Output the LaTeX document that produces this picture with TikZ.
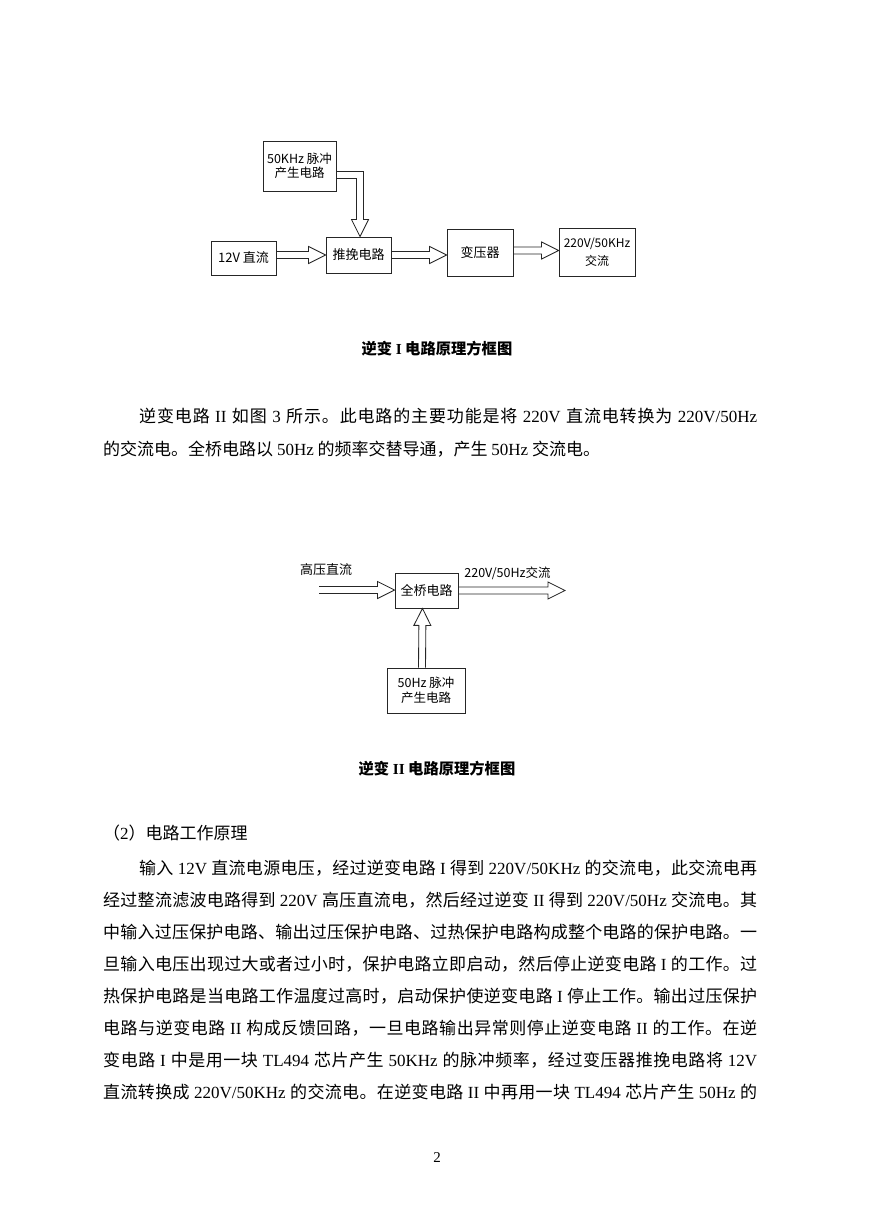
\documentclass[tikz,border=0pt]{standalone}
\usepackage{fontspec}
\setmainfont{Noto Sans CJK SC}
\newfontfamily\tm{Liberation Serif}
\usetikzlibrary{calc}
% stretchable glue between CJK characters (for justified lines)
\XeTeXinterchartokenstate=1
\newXeTeXintercharclass\cjkcls
\newcount\cjkc
\cjkc="4E00 \loop\XeTeXcharclass\cjkc=\cjkcls\advance\cjkc 1 \ifnum\cjkc<"A000 \repeat
\cjkc="3000 \loop\XeTeXcharclass\cjkc=\cjkcls\advance\cjkc 1 \ifnum\cjkc<"3040 \repeat
\cjkc="FF00 \loop\XeTeXcharclass\cjkc=\cjkcls\advance\cjkc 1 \ifnum\cjkc<"FFF0 \repeat
\XeTeXinterchartoks\cjkcls\cjkcls={\hskip 0pt plus 1pt\relax}
\newcommand\lt[1]{{\tm #1}}
\newcommand\dfont{\fontsize{13pt}{14pt}\selectfont}
\newcommand\sfontb{\fontsize{12.5pt}{14pt}\selectfont}
\newcommand\bfont{\fontsize{17pt}{32pt}\selectfont}
\newcommand\capfont{\fontsize{15.3pt}{18pt}\selectfont\bfseries}
\def\aw{3.5}\def\ah{8.5}\def\al{17}
\tikzset{
  box/.style={draw=black!85, line width=0.9pt, inner sep=0pt, align=center, font=\dfont},
  lbl/.style={inner sep=0pt, font=\dfont},
  conn/.style={draw=black!85, line width=0.85pt, line join=miter},
  barrow/.style={to path={
    let \p1=(\tikztostart), \p2=(\tikztotarget),
        \n1={veclen(\x2-\x1,\y2-\y1)},
        \n2={(\x2-\x1)/\n1}, \n3={(\y2-\y1)/\n1}
    in ({\x1-\aw*\n3},{\y1+\aw*\n2})
    -- ({\x1+(\n1-\al)*\n2-\aw*\n3},{\y1+(\n1-\al)*\n3+\aw*\n2})
    -- ({\x1+(\n1-\al)*\n2-\ah*\n3},{\y1+(\n1-\al)*\n3+\ah*\n2})
    -- (\x2,\y2)
    -- ({\x1+(\n1-\al)*\n2+\ah*\n3},{\y1+(\n1-\al)*\n3-\ah*\n2})
    -- ({\x1+(\n1-\al)*\n2+\aw*\n3},{\y1+(\n1-\al)*\n3-\aw*\n2})
    -- ({\x1+\aw*\n3},{\y1-\aw*\n2})}},
  txt/.style={anchor=base west, inner sep=0pt, font=\bfont},
  captext/.style={anchor=base, inner sep=0pt, font=\capfont}
}
\begin{document}
\begin{tikzpicture}[x=1pt,y=-1pt]
\fill[white] (0,0) rectangle (869,1228);
\useasboundingbox (0,0) rectangle (869,1228);

% ---------- Figure 1 ----------
\node[box, minimum width=73pt, minimum height=50pt, font=\sfontb] (p50) at (299.5,166) {50KHz 脉冲\\产生电路};
\node[box, minimum width=65pt, minimum height=34pt] (dc12) at (243.5,258) {12V 直流};
\node[box, minimum width=65pt, minimum height=36pt] (tw) at (358.5,255) {推挽电路};
\node[box, minimum width=66pt, minimum height=47pt] (byq) at (480,252.5) {变压器};
\node[box, minimum width=76pt, minimum height=48pt, font=\fontsize{12pt}{18pt}\selectfont] (out1) at (597,252) {220V/50KHz\\交流};

\draw[conn] let \p1=([yshift=-9pt]p50.east), \p2=([xshift=1.5pt]tw.north) in
  (\x1,{\y1+3.5pt}) -- ({\x2+3.5pt},{\y1+3.5pt}) -- ({\x2+3.5pt},{\y2+17pt})
  -- ({\x2+8.5pt},{\y2+17pt}) -- (\x2,\y2) -- ({\x2-8.5pt},{\y2+17pt})
  -- ({\x2-3.5pt},{\y2+17pt}) -- ({\x2-3.5pt},{\y1-3.5pt}) -- (\x1,{\y1-3.5pt});
\draw[conn] (dc12.east|-tw.west) to[barrow] (tw.west);
\draw[conn] (tw.east) to[barrow] (byq.west|-tw.east);
\draw[conn] ([yshift=2pt]byq.east) to[barrow] ([yshift=2pt]out1.west|-byq.east);

\node[captext] (cap1) at (437,354.5) {逆变 \lt{I} 电路原理方框图};

% ---------- Paragraph 1 ----------
\node[txt] (pa1) at (139,422) {\hbox to 618pt{逆变电路 \lt{II} 如图 \lt{3} 所示。此电路的主要功能是将 \lt{220V} 直流电转换为 \lt{220V/50Hz}}};
\node[txt] (pa2) at (103,455) {的交流电。全桥电路以 \lt{50Hz} 的频率交替导通，产生 \lt{50Hz} 交流电。};

% ---------- Figure 2 ----------
\node[lbl] (hv) at (326,570) {高压直流};
\node[box, minimum width=63pt, minimum height=35pt] (qq) at (426.5,590.5) {全桥电路};
\coordinate (inA) at (319,590);
\coordinate (outA) at (565,590.5);
\node[lbl, font=\sfontb] (lbl2) at (507.5,573) {220V/50Hz交流};
\node[box, minimum width=78pt, minimum height=45pt, font=\fontsize{12.5pt}{15pt}\selectfont] (p50b) at (426,690.5) {50Hz 脉冲\\产生电路};
\draw[conn] (inA) to[barrow] (qq.west|-inA);
\draw[conn] (qq.east|-outA) to[barrow] (outA);
\draw[conn] ([xshift=-4pt]p50b.north) to[barrow] ([xshift=-4pt]qq.south);

\node[captext] (cap2) at (437,774.5) {逆变 \lt{II} 电路原理方框图};

% ---------- Section (2) ----------
\node[txt] (h2) at (103,839) {（\lt{2}）电路工作原理};
\node[txt] (s1) at (139,874) {\hbox to 618pt{输入 \lt{12V} 直流电源电压，经过逆变电路 \lt{I} 得到 \lt{220V/50KHz} 的交流电，此交流电再}};
\node[txt] (s2) at (103,906) {\hbox to 654pt{经过整流滤波电路得到 \lt{220V} 高压直流电，然后经过逆变 \lt{II} 得到 \lt{220V/50Hz} 交流电。其}};
\node[txt] (s3) at (103,938) {\hbox to 654pt{中输入过压保护电路、输出过压保护电路、过热保护电路构成整个电路的保护电路。一}};
\node[txt] (s4) at (103,970) {\hbox to 654pt{旦输入电压出现过大或者过小时，保护电路立即启动，然后停止逆变电路 \lt{I} 的工作。过}};
\node[txt] (s5) at (103,1002) {\hbox to 654pt{热保护电路是当电路工作温度过高时，启动保护使逆变电路 \lt{I} 停止工作。输出过压保护}};
\node[txt] (s6) at (103,1034) {\hbox to 654pt{电路与逆变电路 \lt{II} 构成反馈回路，一旦电路输出异常则停止逆变电路 \lt{II} 的工作。在逆}};
\node[txt] (s7) at (103,1066) {\hbox to 654pt{变电路 \lt{I} 中是用一块 \lt{TL494} 芯片产生 \lt{50KHz} 的脉冲频率，经过变压器推挽电路将 \lt{12V}}};
\node[txt] (s8) at (103,1098) {\hbox to 654pt{直流转换成 \lt{220V/50KHz} 的交流电。在逆变电路 \lt{II} 中再用一块 \lt{TL494} 芯片产生 \lt{50Hz} 的}};

\node[anchor=base, inner sep=0pt, font=\fontsize{15pt}{15pt}\selectfont\tm] (pg) at (437,1162) {2};
\end{tikzpicture}
\end{document}
